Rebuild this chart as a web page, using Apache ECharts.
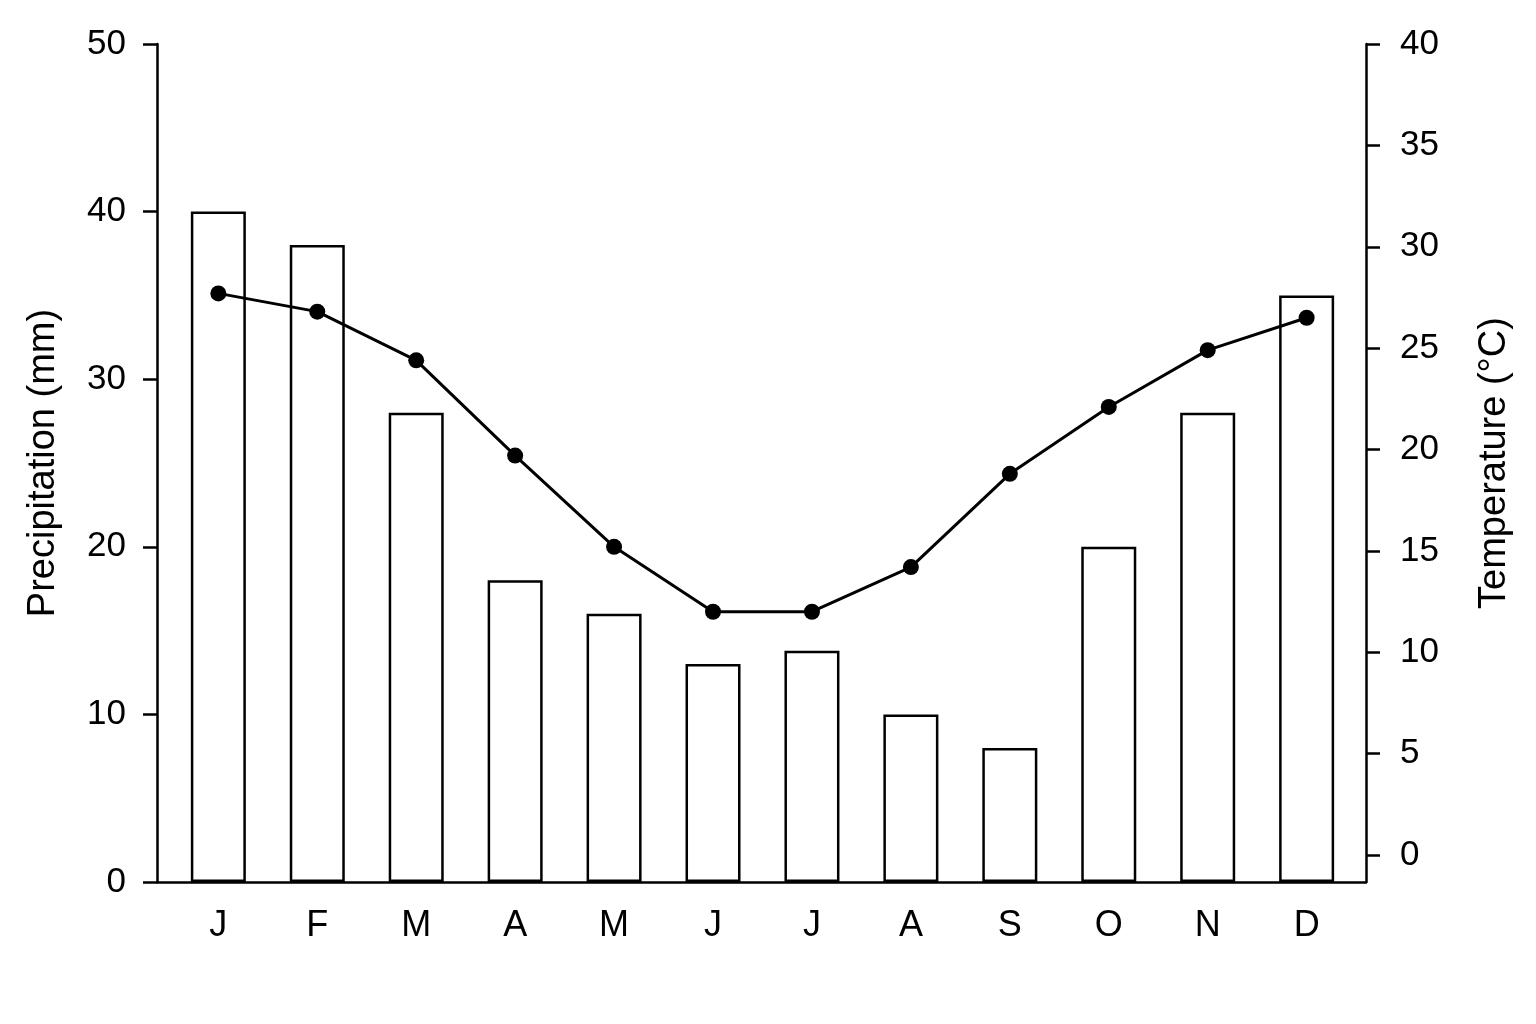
<!DOCTYPE html>
<html>
<head>
<meta charset="utf-8">
<script src="https://cdn.jsdelivr.net/npm/echarts@6/dist/echarts.min.js"></script>
<style>html,body{margin:0;padding:0;background:#fff}#c{width:1536px;height:1024px}</style>
</head>
<body>
<div id="c"></div>
<script>
const months = ['J','F','M','A','M','J','J','A','S','O','N','D'];
const precipitation = [40, 38, 28, 18, 16, 13, 13.8, 10, 8, 20, 28, 35];
const temperature = [27.7, 26.8, 24.4, 19.7, 15.2, 12.0, 12.0, 14.2, 18.8, 22.1, 24.9, 26.5];
const precipTicks = [0, 10, 20, 30, 40, 50];
const tempTicks = [0, 5, 10, 15, 20, 25, 30, 35, 40];

const FONT = 'Liberation Sans, Arial, sans-serif';
const chart = echarts.init(document.getElementById('c'));
const idx = months.map((m, i) => i);
chart.setOption({
  animation: false,
  backgroundColor: '#fff',
  textStyle: { fontFamily: FONT, color: '#000' },
  grid: { left: 157, right: 170, top: 44, bottom: 142, containLabel: false },
  xAxis: {
    type: 'value', min: -0.62, max: 11.6,
    splitLine: { show: false },
    axisLine: { show: true, onZero: false, lineStyle: { color: '#000', width: 2.5 } },
    axisTick: { show: false },
    axisLabel: {
      customValues: idx, margin: 26, fontSize: 36, color: '#000', fontFamily: FONT,
      formatter: v => months[Math.round(v)]
    }
  },
  yAxis: [
    {
      type: 'value', min: 0, max: 50, position: 'left',
      splitLine: { show: false },
      axisLine: { show: true, onZero: false, lineStyle: { color: '#000', width: 2.5 } },
      axisTick: { show: true, customValues: precipTicks, length: 14, lineStyle: { color: '#000', width: 2.5 } },
      axisLabel: { customValues: precipTicks, margin: 31, fontSize: 35, color: '#000', fontFamily: FONT },
      name: 'Precipitation (mm)', nameLocation: 'middle', nameRotate: 90, nameGap: 94,
      nameTextStyle: { fontSize: 38, color: '#000', fontFamily: FONT }
    },
    {
      type: 'value', min: -1.33, max: 40, position: 'right',
      splitLine: { show: false },
      axisLine: { show: true, onZero: false, lineStyle: { color: '#000', width: 2.5 } },
      axisTick: { show: true, customValues: tempTicks, length: 14, lineStyle: { color: '#000', width: 2.5 } },
      axisLabel: { customValues: tempTicks, margin: 34, fontSize: 35, color: '#000', fontFamily: FONT },
      name: 'Temperature (°C)', nameLocation: 'middle', nameRotate: 90, nameGap: 110,
      nameTextStyle: { fontSize: 38, color: '#000', fontFamily: FONT }
    }
  ],
  series: [
    {
      type: 'bar', yAxisIndex: 0, barWidth: 55,
      data: precipitation.map((v, i) => [i, v]),
      itemStyle: { color: '#fff', borderColor: '#000', borderWidth: 2.5 }
    },
    {
      type: 'line', yAxisIndex: 1,
      data: temperature.map((v, i) => [i, v]),
      symbol: 'circle', symbolSize: 16,
      lineStyle: { color: '#000', width: 3 },
      itemStyle: { color: '#000' }
    }
  ]
});
</script>
</body>
</html>
